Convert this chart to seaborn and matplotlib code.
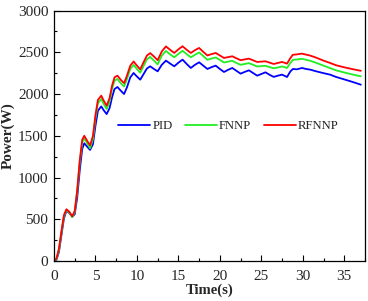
import pandas as pd
import matplotlib
matplotlib.use("Agg")
import matplotlib.pyplot as plt
import seaborn as sns

# ==========================================
# DADOS
# ==========================================
TEMPO = [0, 0.3, 0.6, 0.9, 1.2, 1.5, 1.85, 2.2, 2.5, 2.8, 3.1, 3.4, 3.65, 4.0, 4.35,
         4.7, 5.0, 5.3, 5.7, 6.0, 6.35, 6.7, 7.0, 7.3, 7.65, 8.05, 8.45, 8.8, 9.2, 9.6,
         10.0, 10.4, 10.75, 11.2, 11.6, 12.05, 12.5, 13.0, 13.5, 14.0, 14.5, 15.0, 15.5,
         16.0, 16.5, 17.0, 17.5, 18.0, 18.5, 19.0, 19.5, 20.0, 20.5, 21.0, 21.5, 22.0,
         22.5, 23.0, 23.5, 24.0, 24.5, 25.0, 25.5, 26.0, 26.5, 27.0, 27.5, 28.1, 28.5,
         28.8, 29.3, 29.9, 30.4, 30.9, 31.5, 32.5, 33.3, 34.0, 35.0, 36.0, 37.0]

PID = [0, 15, 110, 310, 510, 600, 575, 530, 560, 760, 1080, 1340, 1410, 1370, 1330,
       1400, 1620, 1800, 1852, 1805, 1760, 1830, 1960, 2060, 2084, 2040, 2000, 2080, 2200, 2252,
       2210, 2172, 2230, 2305, 2332, 2300, 2272, 2350, 2400, 2365, 2332, 2375, 2412,
       2360, 2312, 2350, 2380, 2340, 2300, 2322, 2340, 2300, 2264, 2290, 2312, 2278,
       2244, 2265, 2284, 2252, 2220, 2240, 2260, 2230, 2205, 2220, 2232, 2204, 2270,
       2300, 2296, 2312, 2300, 2292, 2275, 2250, 2232, 2205, 2175, 2145, 2112]

FNNP = [0, 20, 130, 340, 535, 610, 580, 525, 585, 830, 1170, 1420, 1470, 1410, 1350,
        1460, 1710, 1890, 1940, 1880, 1820, 1910, 2060, 2160, 2180, 2130, 2090, 2180, 2300, 2348,
        2300, 2255, 2325, 2415, 2445, 2400, 2355, 2460, 2516, 2475, 2440, 2480, 2518,
        2478, 2440, 2470, 2498, 2455, 2410, 2425, 2438, 2408, 2378, 2388, 2398, 2372,
        2350, 2360, 2370, 2350, 2330, 2334, 2338, 2322, 2308, 2318, 2330, 2312, 2372,
        2410, 2414, 2422, 2410, 2398, 2378, 2340, 2310, 2284, 2258, 2234, 2212]

RFNNP = [0, 30, 150, 360, 550, 620, 590, 535, 600, 850, 1200, 1450, 1500, 1440, 1385,
         1500, 1750, 1930, 1980, 1920, 1860, 1950, 2100, 2200, 2220, 2170, 2130, 2220, 2340, 2390,
         2340, 2295, 2370, 2460, 2490, 2450, 2405, 2510, 2570, 2530, 2492, 2535, 2572,
         2530, 2492, 2525, 2552, 2505, 2462, 2478, 2492, 2462, 2432, 2442, 2452, 2428,
         2405, 2415, 2424, 2404, 2384, 2388, 2392, 2376, 2360, 2372, 2384, 2364, 2430,
         2470, 2475, 2484, 2472, 2460, 2440, 2400, 2372, 2345, 2320, 2298, 2278]

SERIES = ['PID', 'FNNP', 'RFNNP']
COLORS = {'PID': '#0000ff', 'FNNP': '#22ee22', 'RFNNP': '#ff0000'}

# monta tabela longa para o seaborn
frames = []
for nome, vals in zip(SERIES, [PID, FNNP, RFNNP]):
    frames.append(pd.DataFrame({'Time': TEMPO, 'Power': vals, 'Metodo': nome}))
df = pd.concat(frames, ignore_index=True)

sns.set_style("ticks")
plt.rcParams['font.family'] = ['Liberation Serif', 'DejaVu Serif']

fig = plt.figure(figsize=(3.68, 3.01), dpi=100)
ax = fig.add_axes([0.1467, 0.1329, 0.8451, 0.8321])

sns.lineplot(data=df, x='Time', y='Power', hue='Metodo', hue_order=SERIES,
             palette=COLORS, linewidth=1.3, ax=ax)

ax.set_xlim(0, 37)
ax.set_ylim(0, 3000)
ax.set_xticks(range(0, 36, 5))
ax.set_yticks(range(0, 3001, 500))
ax.set_xticks([x + 2.5 for x in range(0, 36, 5)], minor=True)
ax.set_yticks([y + 250 for y in range(0, 3000, 500)], minor=True)
ax.tick_params(which='both', direction='in', top=False, right=False,
               labelsize=11, color='black', width=0.8)
ax.tick_params(which='major', length=4, pad=4)
ax.tick_params(axis='x', which='major', pad=6.5)
ax.tick_params(which='minor', length=2)
for sp in ax.spines.values():
    sp.set_color('black')
    sp.set_linewidth(0.9)

ax.set_xlabel('Time(s)', fontsize=10.5, fontweight='bold', labelpad=0.5)
ax.set_ylabel('Power(W)', fontsize=11, fontweight='bold', labelpad=2)

ax.legend(title=None, ncol=3, frameon=False, fontsize=9.2,
          loc='center', bbox_to_anchor=(0.5605, 0.539),
          handlelength=2.5, columnspacing=0.95, handletextpad=0.2,
          borderpad=0, borderaxespad=0)

fig.savefig('out.png', dpi=100)
